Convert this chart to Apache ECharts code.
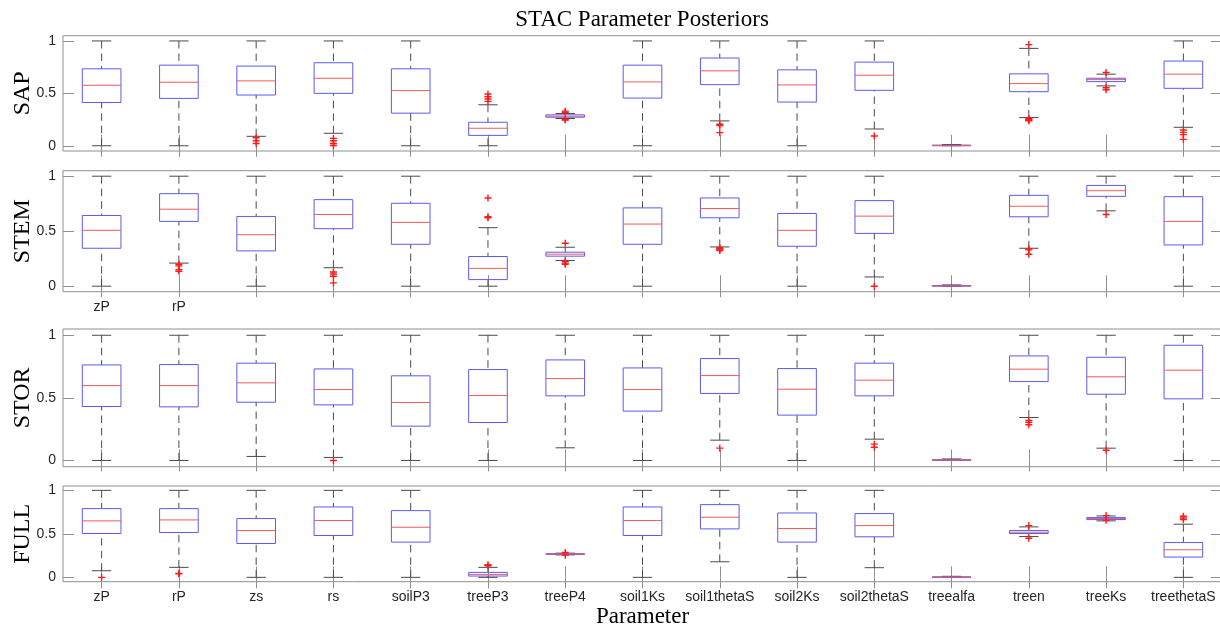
<!DOCTYPE html>
<html><head><meta charset="utf-8">
<script src="https://cdn.jsdelivr.net/npm/echarts@6/dist/echarts.min.js"></script>
<style>html,body{margin:0;padding:0;background:#fff}#c{width:1220px;height:626px}</style>
</head><body><div id="c"></div>
<script>
// ---------------- data ----------------
const categories = ['zP','rP','zs','rs','soilP3','treeP3','treeP4','soil1Ks','soil1thetaS','soil2Ks','soil2thetaS','treealfa','treen','treeKs','treethetaS'];
const panelNames = ['SAP','STEM','STOR','FULL'];
const yTickValues = [0, 0.5, 1];
const stemVisibleLabels = ['zP','rP'];

// each entry: [lowerWhisker, q1, median, q3, upperWhisker]
const sapBox = [
  [0, .413, .577, .734, 1], [0, .452, .606, .769, 1], [.09, .484, .619, .760, 1],
  [.119, .50, .644, .792, 1], [0, .311, .526, .734, 1], [0, .099, .167, .224, .391],
  [.26, .272, .282, .295, .308], [0, .455, .609, .769, 1], [.237, .583, .715, .837, 1],
  [0, .417, .58, .724, 1], [.16, .529, .673, .798, 1], [0, 0, .003, .006, .012],
  [.269, .516, .593, .686, .929], [.571, .612, .631, .644, .683], [.176, .548, .683, .808, 1]
];
const sapOut = [
  [2,.077],[2,.048],[2,.022],
  [3,.07],[3,.048],[3,.022],[3,.002],
  [5,.494],[5,.468],[5,.446],[5,.423],
  [6,.33],[6,.32],[6,.25],[6,.245],
  [8,.205],[8,.192],[8,.125],
  [10,.093],
  [12,.965],[12,.26],[12,.252],[12,.245],[12,.238],
  [13,.699],[13,.554],[13,.535],
  [14,.15],[14,.128],[14,.106],[14,.061]
];

const stemBox = [
  [0, .345, .508, .643, 1], [.21, .589, .70, .841, 1], [0, .321, .468, .634, 1],
  [.168, .523, .652, .787, 1], [0, .381, .58, .754, 1], [0, .06, .162, .27, .532],
  [.234, .273, .291, .309, .354], [0, .381, .565, .712, 1], [.357, .622, .706, .802, 1],
  [0, .363, .508, .661, 1], [.084, .48, .637, .778, 1], [0, 0, .003, .006, .012],
  [.345, .631, .727, .826, 1], [.685, .817, .868, .916, 1], [0, .375, .589, .814, 1]
];
const stemOut = [
  [1,.2],[1,.185],[1,.15],[1,.135],
  [3,.129],[3,.111],[3,.09],[3,.03],
  [5,.802],[5,.631],[5,.622],
  [6,.39],[6,.225],[6,.21],[6,.2],
  [8,.35],[8,.34],[8,.33],[8,.325],
  [10,0],
  [12,.34],[12,.33],[12,.29],
  [13,.652]
];

const storBox = [
  [0, .431, .598, .763, 1], [0, .428, .598, .766, 1], [.032, .465, .62, .777, 1],
  [.024, .444, .566, .731, 1], [0, .274, .463, .676, 1], [0, .303, .519, .726, 1],
  [.101, .516, .654, .803, 1], [0, .394, .566, .739, 1], [.162, .535, .678, .814, 1],
  [0, .362, .569, .734, 1], [.17, .516, .641, .777, 1], [0, 0, .003, .006, .012],
  [.343, .63, .729, .835, 1], [.098, .529, .668, .824, 1], [0, .492, .721, .92, 1]
];
const storOut = [
  [3,0], [8,.098], [10,.13],[10,.105], [12,.32],[12,.305],[12,.285], [13,.082]
];

const fullBox = [
  [.076, .504, .649, .79, 1], [.115, .515, .66, .79, 1], [0, .389, .538, .676, 1],
  [0, .481, .653, .809, 1], [0, .405, .576, .767, 1], [0, .015, .034, .057, .115],
  [.258, .264, .268, .272, .278], [0, .481, .653, .809, 1], [.179, .557, .691, .836, 1],
  [0, .405, .561, .74, 1], [.111, .466, .595, .733, 1], [0, 0, .003, .006, .012],
  [.469, .504, .519, .538, .58], [.649, .664, .676, .687, .706], [0, .233, .317, .40, .611]
];
const fullOut = [
  [0,0], [1,.046],[1,.04], [5,.145],[5,.134], [6,.285],[6,.255],
  [12,.595],[12,.45], [13,.71],[13,.655], [14,.702],[14,.683],[14,.664]
];

// ---------------- chart ----------------
const boxes = [sapBox, stemBox, storBox, fullBox];
const outs = [sapOut, stemOut, storOut, fullOut];
const gridLayout = [[35.7, 115.3], [170.7, 121], [329, 137.7], [486, 95.7]];

const axisColor = '#8f8f8f';
const whiskerColor = '#4a4a4a';
const boxColor = '#5b5bf2';
const medianColor = '#f25a5a';
const serif = 'Liberation Serif';
const sans = 'Liberation Sans';

function renderBox(params, api) {
  const idx = api.value(0);
  const xc = api.coord([idx, 0])[0];
  const band = api.size([1, 0])[0];
  const bw = band * 0.25, cw = band * 0.125;
  const Y = k => api.coord([idx, api.value(k)])[1];
  const yl = Y(1), y1 = Y(2), ym = Y(3), y3 = Y(4), yh = Y(5);
  const dash = { stroke: whiskerColor, lineWidth: 1, lineDash: [7.5, 5], fill: null };
  const solid = { stroke: whiskerColor, lineWidth: 1, fill: null };
  return {
    type: 'group',
    children: [
      { type: 'line', shape: { x1: xc, y1: yh, x2: xc, y2: y3 }, style: dash },
      { type: 'line', shape: { x1: xc, y1: yl, x2: xc, y2: y1 }, style: dash },
      { type: 'line', shape: { x1: xc - cw, y1: yh, x2: xc + cw, y2: yh }, style: solid },
      { type: 'line', shape: { x1: xc - cw, y1: yl, x2: xc + cw, y2: yl }, style: solid },
      { type: 'rect', shape: { x: xc - bw, y: y3, width: 2 * bw, height: y1 - y3 },
        style: { fill: null, stroke: boxColor, lineWidth: 1 } },
      { type: 'line', shape: { x1: xc - bw, y1: ym, x2: xc + bw, y2: ym },
        style: { stroke: medianColor, lineWidth: 1, fill: null } }
    ]
  };
}

const grid = [], xAxis = [], yAxis = [], series = [];
const plusPath = 'path://M2.8,0H4.2V2.8H7V4.2H4.2V7H2.8V4.2H0V2.8H2.8Z';

panelNames.forEach((name, p) => {
  grid.push({ left: 63, width: 1159, top: gridLayout[p][0], height: gridLayout[p][1],
    show: true, borderColor: axisColor, borderWidth: 1, backgroundColor: 'transparent',
    containLabel: false, outerBoundsMode: 'none' });
  const isBottom = p === 3, isStem = p === 1;
  const tickCommon = { show: true, inside: true, length: 11, alignWithLabel: true, interval: 0,
    lineStyle: { color: axisColor, width: 1 } };
  xAxis.push({
    type: 'category', gridIndex: p, data: categories, position: 'bottom',
    axisLine: { show: false }, axisTick: tickCommon, splitLine: { show: false },
    axisLabel: {
      show: isBottom || isStem, interval: 0, margin: 8,
      color: '#262626', fontFamily: sans, fontSize: 14,
      formatter: (v) => (isBottom || stemVisibleLabels.includes(v)) ? v : ''
    },
    name: isBottom ? 'Parameter' : '', nameLocation: 'middle', nameGap: 24,
    nameMoveOverlap: false,
    nameTextStyle: { fontFamily: serif, fontSize: 23, color: '#000' }
  });
  xAxis.push({
    type: 'category', gridIndex: p, data: categories, position: 'top',
    axisLine: { show: false }, axisTick: tickCommon, axisLabel: { show: false },
    splitLine: { show: false }
  });
  const yCommon = { type: 'value', gridIndex: p, min: -0.05, max: 1.05,
    axisLine: { show: false }, splitLine: { show: false } };
  yAxis.push(Object.assign({}, yCommon, {
    position: 'left',
    axisTick: { show: true, inside: true, length: 11, customValues: yTickValues,
      lineStyle: { color: axisColor, width: 1 } },
    axisLabel: { show: true, customValues: yTickValues, margin: 7, color: '#262626',
      fontFamily: sans, fontSize: 14, formatter: v => String(v) },
    name: name, nameLocation: 'middle', nameRotate: 90, nameGap: 28,
    nameMoveOverlap: false,
    nameTextStyle: { fontFamily: serif, fontSize: 24, color: '#000' }
  }));
  yAxis.push(Object.assign({}, yCommon, {
    position: 'right',
    axisTick: { show: true, inside: true, length: 11, customValues: yTickValues,
      lineStyle: { color: axisColor, width: 1 } },
    axisLabel: { show: false }
  }));
  series.push({
    type: 'custom', xAxisIndex: 2 * p, yAxisIndex: 2 * p,
    data: boxes[p].map((b, i) => [i].concat(b)),
    encode: { x: 0, y: [1, 2, 3, 4, 5] },
    renderItem: renderBox, silent: true, clip: false, z: 2
  });
  series.push({
    type: 'scatter', xAxisIndex: 2 * p, yAxisIndex: 2 * p,
    data: outs[p], symbol: plusPath, symbolSize: 7,
    itemStyle: { color: '#ff1a1a', opacity: 1 }, silent: true, z: 3
  });
});

const chart = echarts.init(document.getElementById('c'), null, { renderer: 'canvas' });
chart.setOption({
  animation: false,
  backgroundColor: '#ffffff',
  title: {
    text: 'STAC Parameter Posteriors', left: 642, top: 8, textAlign: 'center', padding: 0,
    textStyle: { fontFamily: serif, fontSize: 23, fontWeight: 'normal', color: '#000' }
  },
  grid, xAxis, yAxis, series
});
</script>
</body></html>
